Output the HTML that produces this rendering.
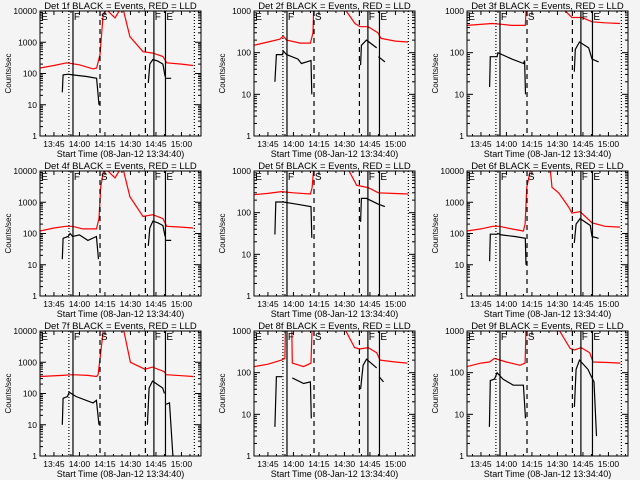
<!DOCTYPE html>
<html><head><meta charset="utf-8"><style>
html,body{margin:0;padding:0;background:#f4f4f4;}
svg{display:block;font-family:"Liberation Sans",sans-serif;}
</style></head><body>
<svg id="chart" width="640" height="480" viewBox="0 0 640 480"></svg>
<script>
// time axis (minutes after 13:00)
const tMin = 36.8, tMax = 131.5;
const xTickMinutes = [45, 60, 75, 90, 105, 120];
const xTickLabels = ["13:45","14:00","14:15","14:30","14:45","15:00"];
const detNames = ["1f","2f","3f","4f","5f","6f","7f","8f","9f"];
const yDecades = [4,3,3,4,3,4,4,3,3];
const dottedLines = [53.8, 127.6];
const solidLines = [56.2, 103.8, 110.6];
const dashedLines = [72.1, 98.8];
const stateLabels = ["E","F","S","F","E"];
const stateMinutes = [37.5, 56.7, 72.6, 104.3, 111.1];

const det1Red = [[36.8,150],[45,180],[52.5,220],[60,190],[68,140],[70.1,150],[72.1,400],[74,8000],[76,11000],[80.9,6000],[83.8,11000],[85.8,11000],[89.7,1500],[97.4,500],[103.2,450],[109.1,350],[111.3,220],[120,200],[126.8,180]];
const det1Blk = [[49.9,25],[50.4,90],[53.3,95],[56,90],[64.2,80],[70.1,70],[71.5,10],null,[100.5,50],[101.4,200],[103.2,280],[106.1,250],[109.1,200],[110.4,80],null,[111,70],[114,70]];
const det2Red = [[36.8,150],[45,180],[52,210],[54,250],[56,200],[64,170],[70,170],[71.5,300],[72,1500],null,[90.3,1100],[96.2,500],[99.2,420],[104,420],[109.7,300],[111.5,220],[120,190],[127.4,180]];
const det2Blk = [[49.1,20],[50,90],[53.6,90],[54,110],[56,90],[62.7,70],[64.7,55],[70.3,65],[70.8,10],null,[99.5,50],[100,150],[103,200],[109,130],null,[110,80],[113.8,60]];
const det3Red = [[36.8,450],[51.5,500],[57.4,480],[63,450],[71.1,450],[71.6,1200],null,[93.6,1100],[98.5,700],[104.4,700],[110.3,550],[118,520],[126.8,500]];
const det3Blk = [[50.1,15],[50.5,80],[54.5,80],[55,100],[63.2,70],[70.1,55],[70.7,65],[71.2,10],null,[99.9,35],[100.5,120],[103,180],[108.4,130],[110.3,70],[114.2,60]];
const det4Red = [[36.8,120],[45,150],[52,170],[56,170],[62,140],[70,140],[71.5,300],[72.5,3000],[74,9000],[76,11000],[80.9,6000],[83.8,11000],[85.8,11000],[89.7,1500],[97.4,350],[103.2,400],[109.1,300],[111.3,170],[120,160],[126.8,150]];
const det4Blk = [[49.9,15],[50.4,70],[53.3,80],[54.5,100],[56,80],[60,90],[65,60],[70,80],[71.2,15],null,[100.5,40],[101.4,150],[103.2,250],[106.1,220],[109.1,180],[110.4,80],null,[111,60],[114,60]];
const det5Red = [[36.8,270],[45,290],[53,320],[60,300],[70,280],[71,400],[72,1200],null,[92.2,1100],[97.2,450],[104,400],[109.9,300],[118,290],[127.6,280]];
const det5Blk = [[49.1,30],[49.6,180],[54,180],[62,160],[70.3,140],[70.8,25],null,[99.5,60],[100,220],[103,220],[109.9,160],[113.8,140]];
const det6Red = [[36.8,120],[45,140],[52,170],[56,170],[63,140],[70,120],[71,200],[72,3000],[74,10000],[78,11000],[85.8,11000],[86.8,3000],[90.7,2000],[96.6,700],[98.5,450],[103.3,500],[110.3,220],[118,170],[126.8,160]];
const det6Blk = [[50.1,13],[50.5,95],[54.5,95],[55,100],[57,90],[65,80],[71.1,70],[71.5,10],null,[99.9,50],[101,200],[103.3,300],[109.3,180],[110.3,80],[114.2,70]];
const det7Red = [[36.8,350],[50,380],[56,400],[65,380],[70,350],[71,400],[72.5,2000],[74,10000],[78,11000],[86,11000],[90,1000],[98.5,600],[103,700],[110,500],[111,400],[120,370],[127,350]];
const det7Blk = [[49.9,10],[50.4,70],[53,80],[54,110],[58,80],[68,50],[70,60],[71.5,10],null,[100,10],[101,150],[103,250],[109,150],[110,100],null,[111,45],[113,50],[115,1]];
const det8Red = [[36.8,140],[45,160],[53,200],[55,220],[55.3,1500],null,[59,1500],[59.3,170],[66,140],[70.3,170],[71,1200],null,[90.3,1100],[96,400],[99,370],[104,400],[109,300],[111,200],[120,180],[127,170]];
const det8Blk = [[49.1,5],[50,80],[53.3,80],null,[59.3,75],[66,55],[70,60],[70.5,8],null,[99.5,40],[101,150],[103,210],[109,130],null,[110.4,80],[113,60]];
const det9Red = [[36.8,140],[45,170],[50,180],[53,220],[60,180],[68,150],[71,170],[71.5,1200],null,[90.7,1100],[97.5,380],[100,350],[104,400],[109,300],[111,180],[120,175],[127,170]];
const det9Blk = [[50,5],[50.5,65],[53,70],[54.5,100],[58,70],[64,50],[70,50],[71.2,8],null,[100,15],[101,120],[103,200],[108,120],[110,80],[111.5,60],[113,3]];
const redSeries = [det1Red,det2Red,det3Red,det4Red,det5Red,det6Red,det7Red,det8Red,det9Red];
const blkSeries = [det1Blk,det2Blk,det3Blk,det4Blk,det5Blk,det6Blk,det7Blk,det8Blk,det9Blk];

const NS = "http://www.w3.org/2000/svg";
const svg = document.getElementById("chart");
const colLeft = [40, 254, 467], rowTop = [11, 171, 331], W = 161, H = 125;
function mk(tag, attrs, parent){const e=document.createElementNS(NS,tag);for(const k in attrs)e.setAttribute(k,attrs[k]);parent.appendChild(e);return e;}

for (let p = 0; p < 9; p++) {
  const L = colLeft[p%3], T = rowTop[Math.floor(p/3)], B = T+H, R = L+W;
  const dec = yDecades[p];
  const xs = m => L + (m - tMin) / (tMax - tMin) * W;
  const ys = v => B - Math.log10(Math.max(v, 0.01)) / dec * H;
  const g = mk("g", {}, svg);
  
  
  const cid = "clip" + p;
  const cp = mk("clipPath", {id: cid}, g);
  mk("rect", {x: L, y: T, width: W, height: H}, cp);
  const title = mk("text", {x: (L+R)/2, y: T-2, "text-anchor": "middle", "font-size": "9.5"}, g);
  title.textContent = "Det " + detNames[p] + " BLACK = Events, RED = LLD";
  
  
  const dg = mk("g", {"clip-path": "url(#" + cid + ")"}, g);
  [[redSeries[p], "#ff0000", "red-lld-line"], [blkSeries[p], "#000", "black-events-line"]].forEach(([ser, col, nm]) => {
    let d = "", start = true;
    ser.forEach(pt => {
      if (pt === null) { start = true; return; }
      d += (start ? "M" : "L") + xs(pt[0]).toFixed(1) + "," + ys(pt[1]).toFixed(1);
      start = false;
    });
    const path = mk("path", {d: d, fill: "none", stroke: col, "stroke-width": "1.2"}, dg);
    
    
  });
  const vline = (m, dash, nm) => {
    const l = mk("line", {x1: xs(m), x2: xs(m), y1: T, y2: B, stroke: "#000", "stroke-width": "1.2"}, g);
    if (dash) l.setAttribute("stroke-dasharray", dash);
    
    
  };
  dottedLines.forEach(m => vline(m, "1,2", "dotted-marker"));
  solidLines.forEach(m => vline(m, null, "solid-marker"));
  dashedLines.forEach(m => vline(m, "5,4", "dashed-marker"));
  stateMinutes.forEach((m, i) => {
    const t = mk("text", {x: xs(m), y: T+9, "font-size": "10"}, g);
    t.textContent = stateLabels[i];
    
    
  });
  const fr = mk("rect", {x: L, y: T, width: W, height: H, fill: "none", stroke: "#000", "stroke-width": "1"}, g);
  
  
  xTickMinutes.forEach((m, i) => {
    const x = xs(m);
    mk("line", {x1: x, x2: x, y1: B, y2: B-4, stroke: "#000"}, g);
    mk("line", {x1: x, x2: x, y1: T, y2: T+4, stroke: "#000"}, g);
    const t = mk("text", {x: x, y: B+11, "text-anchor": "middle", "font-size": "8.5"}, g);
    t.textContent = xTickLabels[i];
    
    
  });
  for (let m = 40; m < tMax; m += 5) {
    if (m % 15 === 0 || m < tMin) continue;
    const x = xs(m);
    mk("line", {x1: x, x2: x, y1: B, y2: B-2, stroke: "#000"}, g);
    mk("line", {x1: x, x2: x, y1: T, y2: T+2, stroke: "#000"}, g);
  }
  const xt = mk("text", {x: (L+R)/2, y: B+21, "text-anchor": "middle", "font-size": "9"}, g);
  xt.textContent = "Start Time (08-Jan-12 13:34:40)";
  
  
  for (let k = 0; k <= dec; k++) {
    const v = Math.pow(10, k), y = ys(v);
    mk("line", {x1: L, x2: L+6, y1: y, y2: y, stroke: "#000"}, g);
    mk("line", {x1: R, x2: R-6, y1: y, y2: y, stroke: "#000"}, g);
    const t = mk("text", {x: L-3, y: y+3, "text-anchor": "end", "font-size": "8.5"}, g);
    t.textContent = String(v);
    
    
    if (k < dec) for (let j = 2; j <= 9; j++) {
      const yy = ys(v*j);
      mk("line", {x1: L, x2: L+3, y1: yy, y2: yy, stroke: "#000"}, g);
      mk("line", {x1: R, x2: R-3, y1: yy, y2: yy, stroke: "#000"}, g);
    }
  }
  const yt = mk("text", {x: 0, y: 0, "text-anchor": "middle", "font-size": "8", transform: "translate(" + (L-29) + "," + (T+H/2) + ") rotate(-90)"}, g);
  yt.textContent = "Counts/sec";
  
  
}
</script>
</body></html>
